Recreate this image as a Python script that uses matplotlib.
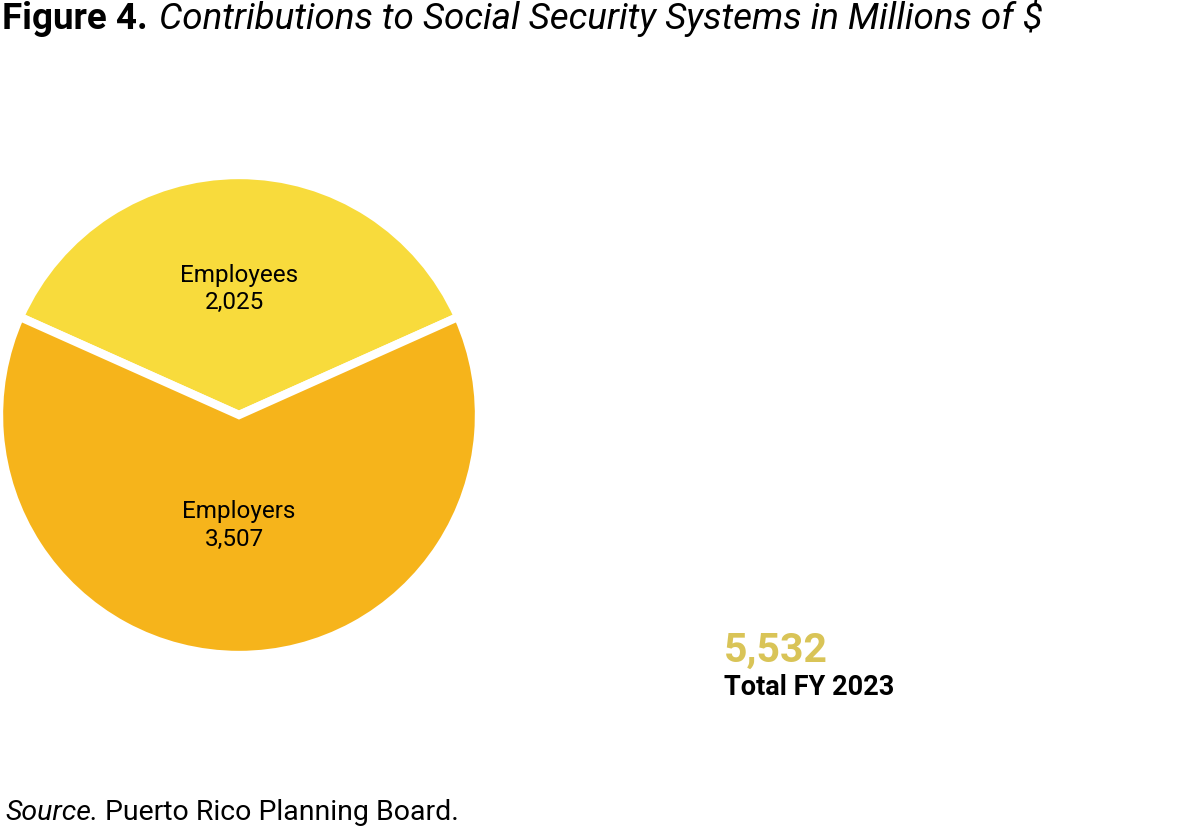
import numpy as np
import matplotlib
matplotlib.use("Agg")
import matplotlib.pyplot as plt

plt.rcParams['font.family'] = ['Roboto', 'DejaVu Sans']

# data
categories = ["Employees", "Employers"]
values = [2025, 3507]
value_labels = ["2,025", "3,507"]
total_label = "5,532"
total_caption = "Total FY 2023"
colors = ["#F8DB3C", "#F6B41B"]

W, H = 1186, 830
fig = plt.figure(figsize=(W / 100, H / 100), dpi=100)

def fx(px):
    return px / W

def fy(py):
    return 1 - py / H

# pie axes, centered at (239, 415) px, half size 240 px
cx, cy, half = 239, 415, 240
ax = fig.add_axes([fx(cx - half), fy(cy + half), 2 * half / W, 2 * half / H])
frac0 = values[0] / sum(values)
start = 90 - 360 * frac0 / 2
wedges, _ = ax.pie(values, colors=colors, startangle=start, radius=1.0,
                   wedgeprops=dict(edgecolor="white", linewidth=6))
ax.set_xlim(-1, 1)
ax.set_ylim(-1, 1)
ax.set_aspect("equal")
ax.axis("off")

# label distances (name, value) from centre along wedge mid-angle
label_r = [(0.554, 0.442), (0.429, 0.546)]
for w, name, val, (rn, rv) in zip(wedges, categories, value_labels, label_r):
    mid = np.deg2rad((w.theta1 + w.theta2) / 2)
    ax.text(rn * np.cos(mid), rn * np.sin(mid), name, ha="center", va="baseline",
            fontsize=17.5, color="black")
    ax.text(rv * np.cos(mid) - 0.02, rv * np.sin(mid), val, ha="center", va="baseline",
            fontsize=17.5, color="black")

# title
t1 = fig.text(fx(2), fy(29), "Figure 4.", fontsize=26.5, fontweight="bold",
              ha="left", va="baseline")
fig.canvas.draw()
bb = t1.get_window_extent()
fig.text(bb.x1 / W + fx(11), fy(29), "Contributions to Social Security Systems in Millions of $",
         fontsize=26.5, fontstyle="italic", ha="left", va="baseline")

# total
fig.text(fx(724), fy(662), total_label, fontsize=29.5, fontweight="bold",
         color="#D9C457", ha="left", va="baseline")
fig.text(fx(724), fy(695), total_caption, fontsize=19.5, fontweight="bold",
         color="black", ha="left", va="baseline")

# source
s1 = fig.text(fx(5), fy(820), "Source.", fontsize=20.5, fontstyle="italic",
              ha="left", va="baseline")
fig.canvas.draw()
bb = s1.get_window_extent()
fig.text(bb.x1 / W + fx(7), fy(820), "Puerto Rico Planning Board.", fontsize=20.5,
         ha="left", va="baseline")

fig.savefig("out.png", dpi=100, facecolor="white")
